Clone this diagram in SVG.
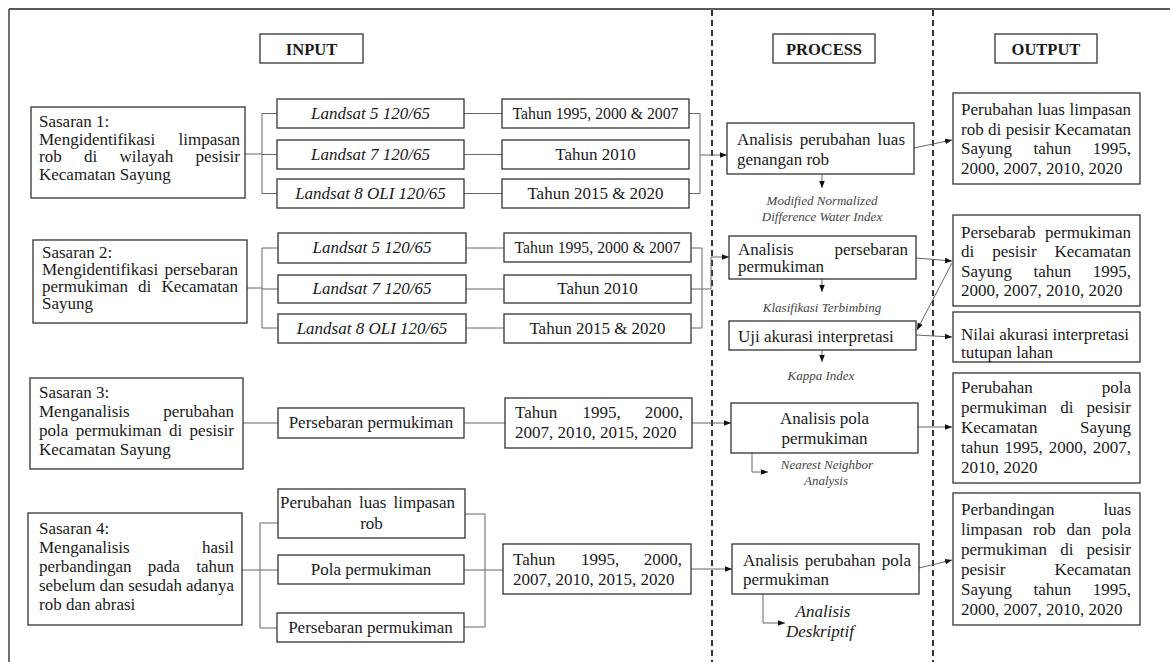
<svg xmlns="http://www.w3.org/2000/svg" width="1170" height="662" viewBox="0 0 1170 662">
<style>
.b{fill:#fff;stroke:#333;stroke-width:1.3}
text{font-family:"Liberation Serif","Times New Roman",serif;font-size:17px;fill:#1a1a1a}
.i{font-style:italic}
.s{font-size:13px;fill:#444}
.c{text-anchor:middle}
.e{text-anchor:end}
.h{font-weight:bold;font-size:16.5px}
.ln{fill:none;stroke:#666;stroke-width:1}
.ar{marker-end:url(#ah)}
.d{stroke:#333;stroke-width:2;stroke-dasharray:6 4}
.f{stroke:#222;stroke-width:1.3}
</style>
<defs>
<marker id="ah" viewBox="0 0 10 10" refX="10" refY="5" markerWidth="7" markerHeight="7" markerUnits="userSpaceOnUse" orient="auto"><path d="M0,1 L10,5 L0,9 z" fill="#111"/></marker>
</defs>
<rect width="1170" height="662" fill="#fff"/>
<g id="frame">
<line class="f" x1="9" y1="9" x2="1170" y2="9"/>
<line class="f" x1="9" y1="9" x2="9" y2="662"/>
<line class="d" x1="712" y1="10" x2="712" y2="662"/>
<line class="d" x1="933" y1="10" x2="933" y2="662"/>
</g>
<g id="connectors">
<path class="ln" d="M245,154H262M262,113.5V193.5M262,113.5H277M262,154.5H277M262,193.5H277"/>
<path class="ln" d="M464,113.5H502M464,154.5H502M464,193.5H502"/>
<path class="ln" d="M689,113.5H700V193.5H689"/>
<path class="ln ar" d="M700,155H727"/>
<path class="ln ar" d="M914,148L952,140"/>
<path class="ln ar" d="M822,174V188"/>
<path class="ln" d="M247,288H262M262,248V328M262,248H278M262,289H278M262,328H278"/>
<path class="ln" d="M466,248H504M466,289H504M466,328H504"/>
<path class="ln" d="M691,248H702V328H691"/>
<path class="ln ar" d="M691,289H711V257H729"/>
<path class="ln ar" d="M916,258L952,261"/>
<path class="ln ar" d="M822,279V292"/>
<path class="ln ar" d="M952,263L917,330"/>
<path class="ln ar" d="M916,335L952,337"/>
<path class="ln ar" d="M822,350V362"/>
<path class="ln" d="M243,423H278M464,423H505"/>
<path class="ln ar" d="M692,423H731"/>
<path class="ln ar" d="M918,427H952"/>
<path class="ln ar" d="M752,453V472H768"/>
<path class="ln" d="M242,570H278M260,523V628M260,523H278M260,628H277"/>
<path class="ln" d="M465,514H485V627H464M464,570H503"/>
<path class="ln ar" d="M691,569H732"/>
<path class="ln ar" d="M919,568L952,560"/>
<path class="ln ar" d="M763,594V623H785"/>
</g>
<g id="hdr-input"><rect class="b" x="260" y="34" width="103" height="29"/><text class="h c" x="311.5" y="54.5">INPUT</text></g>
<g id="hdr-process"><rect class="b" x="773" y="34" width="102" height="29"/><text class="h c" x="824" y="54.5">PROCESS</text></g>
<g id="hdr-output"><rect class="b" x="995" y="34" width="102" height="29"/><text class="h c" x="1046" y="54.5">OUTPUT</text></g>

<g id="sasaran1"><rect class="b" x="31" y="107" width="214" height="91"/>
<text x="39" y="127">Sasaran 1:</text>
<text x="39" y="145">Mengidentifikasi</text><text class="e" x="240" y="145">limpasan</text>
<text y="162"><tspan x="39">rob</tspan><tspan x="84">di</tspan><tspan x="119.5">wilayah</tspan></text><text class="e" x="240" y="162">pesisir</text>
<text x="39" y="180">Kecamatan Sayung</text></g>

<g id="l5a"><rect class="b" x="277" y="99" width="187" height="29"/><text class="i c" x="370.5" y="119">Landsat 5 120/65</text></g>
<g id="l7a"><rect class="b" x="277" y="140" width="187" height="29"/><text class="i c" x="370.5" y="160">Landsat 7 120/65</text></g>
<g id="l8a"><rect class="b" x="277" y="179" width="187" height="29"/><text class="i c" x="370.5" y="199">Landsat 8 OLI 120/65</text></g>
<g id="t1a"><rect class="b" x="502" y="99" width="187" height="29"/><text class="c" x="595.5" y="119" textLength="166" lengthAdjust="spacingAndGlyphs">Tahun 1995, 2000 &amp; 2007</text></g>
<g id="t2a"><rect class="b" x="502" y="140" width="187" height="29"/><text class="c" x="595.5" y="160">Tahun 2010</text></g>
<g id="t3a"><rect class="b" x="502" y="179" width="187" height="29"/><text class="c" x="595.5" y="199">Tahun 2015 &amp; 2020</text></g>

<g id="sasaran2"><rect class="b" x="33" y="240" width="214" height="83"/>
<text x="42" y="258">Sasaran 2:</text>
<text x="42" y="275">Mengidentifikasi</text><text class="e" x="238" y="275">persebaran</text>
<text y="292"><tspan x="42">permukiman</tspan><tspan x="138">di</tspan></text><text class="e" x="238" y="292">Kecamatan</text>
<text x="42" y="309">Sayung</text></g>

<g id="l5b"><rect class="b" x="278" y="233" width="188" height="30"/><text class="i c" x="372" y="253">Landsat 5 120/65</text></g>
<g id="l7b"><rect class="b" x="278" y="275" width="188" height="28"/><text class="i c" x="372" y="294">Landsat 7 120/65</text></g>
<g id="l8b"><rect class="b" x="278" y="314" width="188" height="29"/><text class="i c" x="372" y="334">Landsat 8 OLI 120/65</text></g>
<g id="t1b"><rect class="b" x="504" y="233" width="187" height="29"/><text class="c" x="597.5" y="253" textLength="166" lengthAdjust="spacingAndGlyphs">Tahun 1995, 2000 &amp; 2007</text></g>
<g id="t2b"><rect class="b" x="504" y="275" width="187" height="28"/><text class="c" x="597.5" y="294">Tahun 2010</text></g>
<g id="t3b"><rect class="b" x="504" y="314" width="187" height="29"/><text class="c" x="597.5" y="334">Tahun 2015 &amp; 2020</text></g>

<g id="sasaran3"><rect class="b" x="30" y="378" width="213" height="91"/>
<text x="39" y="398">Sasaran 3:</text>
<text x="39" y="417">Menganalisis</text><text class="e" x="234" y="417">perubahan</text>
<text y="436"><tspan x="39">pola</tspan><tspan x="75.7">permukiman</tspan><tspan x="169">di</tspan></text><text class="e" x="234" y="436">pesisir</text>
<text x="39" y="455">Kecamatan Sayung</text></g>

<g id="pers3"><rect class="b" x="278" y="408" width="186" height="30"/><text class="c" x="371" y="428">Persebaran permukiman</text></g>
<g id="tahun3"><rect class="b" x="505" y="398" width="187" height="50"/>
<text y="418"><tspan x="515">Tahun</tspan><tspan x="582.5">1995,</tspan></text><text class="e" x="683" y="418">2000,</text>
<text x="515" y="438">2007, 2010, 2015, 2020</text></g>

<g id="sasaran4"><rect class="b" x="28" y="513" width="214" height="112"/>
<text x="39" y="534">Sasaran 4:</text>
<text x="39" y="553">Menganalisis</text><text class="e" x="234" y="553">hasil</text>
<text y="572"><tspan x="39">perbandingan</tspan><tspan x="147.8">pada</tspan></text><text class="e" x="234" y="572">tahun</text>
<text x="39" y="591" textLength="195" lengthAdjust="spacingAndGlyphs">sebelum dan sesudah adanya</text>
<text x="39" y="610">rob dan abrasi</text></g>

<g id="perluas4"><rect class="b" x="278" y="489" width="187" height="49"/>
<text y="508"><tspan x="280">Perubahan</tspan><tspan x="359">luas</tspan></text><text class="e" x="455" y="508">limpasan</text>
<text class="c" x="371.5" y="529">rob</text></g>
<g id="pola4"><rect class="b" x="278" y="555" width="186" height="29"/><text class="c" x="371" y="575">Pola permukiman</text></g>
<g id="pers4"><rect class="b" x="277" y="613" width="187" height="29"/><text class="c" x="370.5" y="633">Persebaran permukiman</text></g>
<g id="tahun4"><rect class="b" x="503" y="544" width="188" height="50"/>
<text y="565"><tspan x="513">Tahun</tspan><tspan x="581">1995,</tspan></text><text class="e" x="682" y="565">2000,</text>
<text x="513" y="585">2007, 2010, 2015, 2020</text></g>

<g id="proc1"><rect class="b" x="727" y="123" width="187" height="51"/>
<text y="145"><tspan x="737">Analisis</tspan><tspan x="799.8">perubahan</tspan></text><text class="e" x="905" y="145">luas</text>
<text x="737" y="165">genangan rob</text></g>
<g id="lbl-mndwi"><text class="i s c" x="822" y="205">Modified Normalized</text><text class="i s c" x="822" y="221">Difference Water Index</text></g>

<g id="proc2"><rect class="b" x="729" y="236" width="187" height="43"/>
<text x="738" y="255">Analisis</text><text class="e" x="908" y="255">persebaran</text>
<text x="738" y="272">permukiman</text></g>
<g id="lbl-klas"><text class="i s c" x="822" y="312">Klasifikasi Terbimbing</text></g>

<g id="proc3"><rect class="b" x="729" y="321" width="187" height="29"/><text x="738" y="342">Uji akurasi interpretasi</text></g>
<g id="lbl-kappa"><text class="i s c" x="821" y="380">Kappa Index</text></g>

<g id="proc4"><rect class="b" x="731" y="403" width="187" height="50"/>
<text class="c" x="824.5" y="424">Analisis pola</text><text class="c" x="824.5" y="444">permukiman</text></g>
<g id="lbl-nn"><text class="i s c" x="827" y="469">Nearest Neighbor</text><text class="i s c" x="826" y="485">Analysis</text></g>

<g id="proc5"><rect class="b" x="732" y="544" width="187" height="50"/>
<text y="566"><tspan x="743">Analisis</tspan><tspan x="804.8">perubahan</tspan></text><text class="e" x="911" y="566">pola</text>
<text x="743" y="585">permukiman</text></g>
<g id="lbl-desk"><text class="i c" x="823" y="617">Analisis</text><text class="i c" x="820" y="637">Deskriptif</text></g>

<g id="out1"><rect class="b" x="953" y="93" width="187" height="91"/>
<text y="115"><tspan x="961">Perubahan</tspan><tspan x="1037.5">luas</tspan></text><text class="e" x="1131" y="115">limpasan</text>
<text y="134.5"><tspan x="961">rob</tspan><tspan x="988.1">di</tspan><tspan x="1005.7">pesisir</tspan></text><text class="e" x="1131" y="134.5">Kecamatan</text>
<text y="154"><tspan x="961">Sayung</tspan><tspan x="1033.5">tahun</tspan></text><text class="e" x="1131" y="154">1995,</text>
<text x="961" y="173.5">2000, 2007, 2010, 2020</text></g>

<g id="out2"><rect class="b" x="953" y="215" width="187" height="91"/>
<text x="961" y="237.5">Persebarab</text><text class="e" x="1131" y="237.5">permukiman</text>
<text y="257"><tspan x="961">di</tspan><tspan x="992.2">pesisir</tspan></text><text class="e" x="1131" y="257">Kecamatan</text>
<text y="276.5"><tspan x="961">Sayung</tspan><tspan x="1033.5">tahun</tspan></text><text class="e" x="1131" y="276.5">1995,</text>
<text x="961" y="296">2000, 2007, 2010, 2020</text></g>

<g id="out3"><rect class="b" x="953" y="312" width="187" height="50"/>
<text x="961" y="340">Nilai akurasi interpretasi</text>
<text x="961" y="358">tutupan lahan</text></g>

<g id="out4"><rect class="b" x="953" y="373" width="187" height="110"/>
<text x="961" y="393">Perubahan</text><text class="e" x="1131" y="393">pola</text>
<text y="413"><tspan x="961">permukiman</tspan><tspan x="1060.2">di</tspan></text><text class="e" x="1131" y="413">pesisir</text>
<text x="961" y="433">Kecamatan</text><text class="e" x="1131" y="433">Sayung</text>
<text y="453"><tspan x="961">tahun</tspan><tspan x="1004.6">1995,</tspan><tspan x="1048.7">2000,</tspan></text><text class="e" x="1131" y="453">2007,</text>
<text x="961" y="473">2010, 2020</text></g>

<g id="out5"><rect class="b" x="953" y="493" width="187" height="132"/>
<text x="961" y="515">Perbandingan</text><text class="e" x="1131" y="515">luas</text>
<text y="535"><tspan x="961">limpasan</tspan><tspan x="1033.1">rob</tspan><tspan x="1066.5">dan</tspan></text><text class="e" x="1131" y="535">pola</text>
<text y="555"><tspan x="961">permukiman</tspan><tspan x="1060.2">di</tspan></text><text class="e" x="1131" y="555">pesisir</text>
<text x="961" y="575">pesisir</text><text class="e" x="1131" y="575">Kecamatan</text>
<text y="595"><tspan x="961">Sayung</tspan><tspan x="1033.5">tahun</tspan></text><text class="e" x="1131" y="595">1995,</text>
<text x="961" y="615">2000, 2007, 2010, 2020</text></g>
</svg>
